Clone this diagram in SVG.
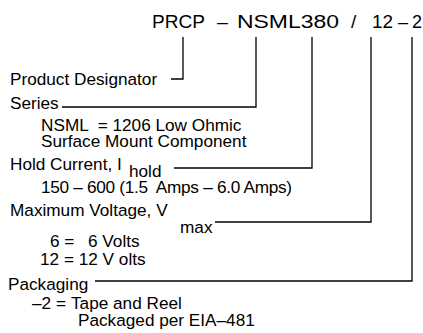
<svg xmlns="http://www.w3.org/2000/svg" width="423" height="333" viewBox="0 0 423 333">
<style>
text{font-family:"Liberation Sans",Arial,sans-serif;font-size:17.2px;fill:#000;white-space:pre}
.t{font-size:19px}
.c{fill:none;stroke:#000;stroke-width:1.3}
</style>
<rect width="423" height="333" fill="#fff"/>
<g id="title">
<text class="t" x="152" y="28" textLength="53" lengthAdjust="spacingAndGlyphs">PRCP</text>
<text class="t" x="217" y="28" textLength="11" lengthAdjust="spacingAndGlyphs">–</text>
<text class="t" x="237" y="28" textLength="102" lengthAdjust="spacingAndGlyphs">NSML380</text>
<text class="t" x="351" y="28">/</text>
<text class="t" x="372" y="28" textLength="21" lengthAdjust="spacingAndGlyphs">12</text>
<text class="t" x="398" y="28" textLength="10" lengthAdjust="spacingAndGlyphs">–</text>
<text class="t" x="412" y="28" textLength="10" lengthAdjust="spacingAndGlyphs">2</text>
</g>
<g id="connectors">
<polyline class="c" points="183,37 183,79 171,79"/>
<polyline class="c" points="256,37 256,107 62,107"/>
<polyline class="c" points="312,37 312,168 174,168"/>
<polyline class="c" points="371,37 371,222 215,222"/>
<polyline class="c" points="412,37 412,281 95,281"/>
</g>
<g id="product">
<text x="10" y="85">Product Designator</text>
</g>
<g id="series">
<text x="10" y="109">Series</text>
<text x="41" y="131">NSML  = 1206 Low Ohmic</text>
<text x="41" y="147">Surface Mount Component</text>
</g>
<g id="hold">
<text x="10" y="170">Hold Current, I</text>
<text x="129" y="177">hold</text>
<text x="41" y="193" textLength="251">150 – 600 (1.5  Amps – 6.0 Amps)</text>
</g>
<g id="voltage">
<text x="10" y="216">Maximum Voltage, V</text>
<text x="180" y="233">max</text>
<text x="50" y="247">6 =</text>
<text x="88" y="247">6 Volts</text>
<text x="40" y="265">12 = 12 V olts</text>
</g>
<g id="packaging">
<text x="8" y="290">Packaging</text>
<text x="32" y="309">–2 =</text>
<text x="71" y="309">Tape and Reel</text>
<text x="78" y="326">Packaged per EIA–481</text>
</g>
</svg>
